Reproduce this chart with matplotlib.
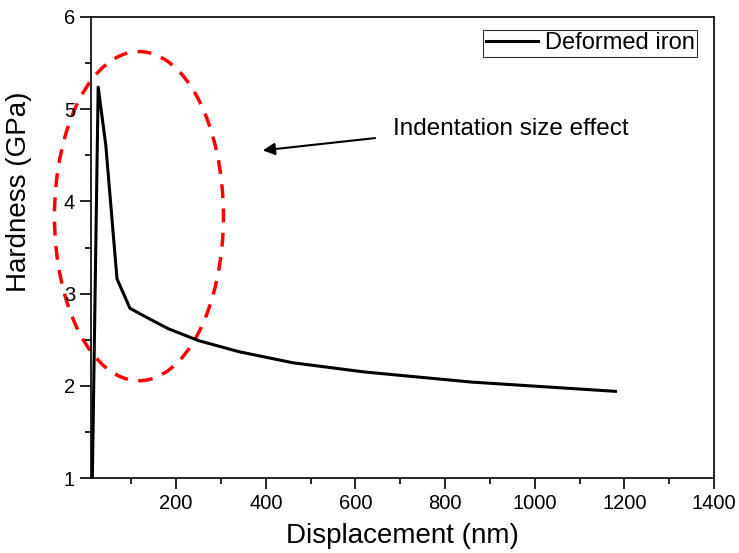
import matplotlib
matplotlib.use("Agg")
import matplotlib.pyplot as plt
from matplotlib.patches import Ellipse
from matplotlib.ticker import MultipleLocator

plt.rcParams['font.family'] = ['Liberation Sans', 'DejaVu Sans']

# hardness vs displacement
displacement = [13, 26, 43, 68, 97, 135, 182, 250, 340, 460, 620, 860, 1180]
hardness = [1.0, 5.24, 4.61, 3.16, 2.84, 2.74, 2.62, 2.49, 2.37, 2.25, 2.15, 2.04, 1.94]

fig = plt.figure(figsize=(7.39, 5.53), dpi=100)
ax = fig.add_axes([91/739, 1 - 478/553, (714-91)/739, (478-17)/553])

ax.plot(displacement, hardness, color='black', lw=2.2, label='Deformed iron')

ax.set_xlim(10, 1400)
ax.set_ylim(1, 6)
ax.xaxis.set_major_locator(MultipleLocator(200))
ax.xaxis.set_minor_locator(MultipleLocator(100))
ax.yaxis.set_major_locator(MultipleLocator(1))
ax.yaxis.set_minor_locator(MultipleLocator(0.5))
ax.tick_params(which='major', direction='out', length=8, width=1.2, labelsize=14.5)
ax.tick_params(which='minor', direction='out', length=4, width=1.2)
for s in ax.spines.values():
    s.set_linewidth(1.2)

ax.set_xlabel('Displacement (nm)', fontsize=20)
ax.set_ylabel('Hardness (GPa)', fontsize=20)
ax.xaxis.set_label_coords(0.5, -0.097)
ax.yaxis.set_label_coords(-0.094, 0.62)

# the red dashed ellipse marking the size effect
ell = Ellipse((117, 3.84), 377, 3.57, fill=False, edgecolor='red',
              lw=2.5, ls=(0, (4, 3)), clip_on=False)
ax.add_patch(ell)

ax.annotate('', xy=(387, 4.55), xytext=(650, 4.69),
            arrowprops=dict(arrowstyle='-|>', color='black', lw=1.5,
                            mutation_scale=18))
ax.text(683, 4.79, 'Indentation size effect', fontsize=17.5, va='center')

leg = ax.legend(loc='upper right', fontsize=17, frameon=True, fancybox=False,
                handlelength=2.2, handletextpad=0.3, borderpad=0.1,
                borderaxespad=0, bbox_to_anchor=((697-91)/623, (478-30)/461))
leg.get_frame().set_edgecolor('black')
leg.get_frame().set_linewidth(0.8)

fig.savefig('out.png', dpi=100)
